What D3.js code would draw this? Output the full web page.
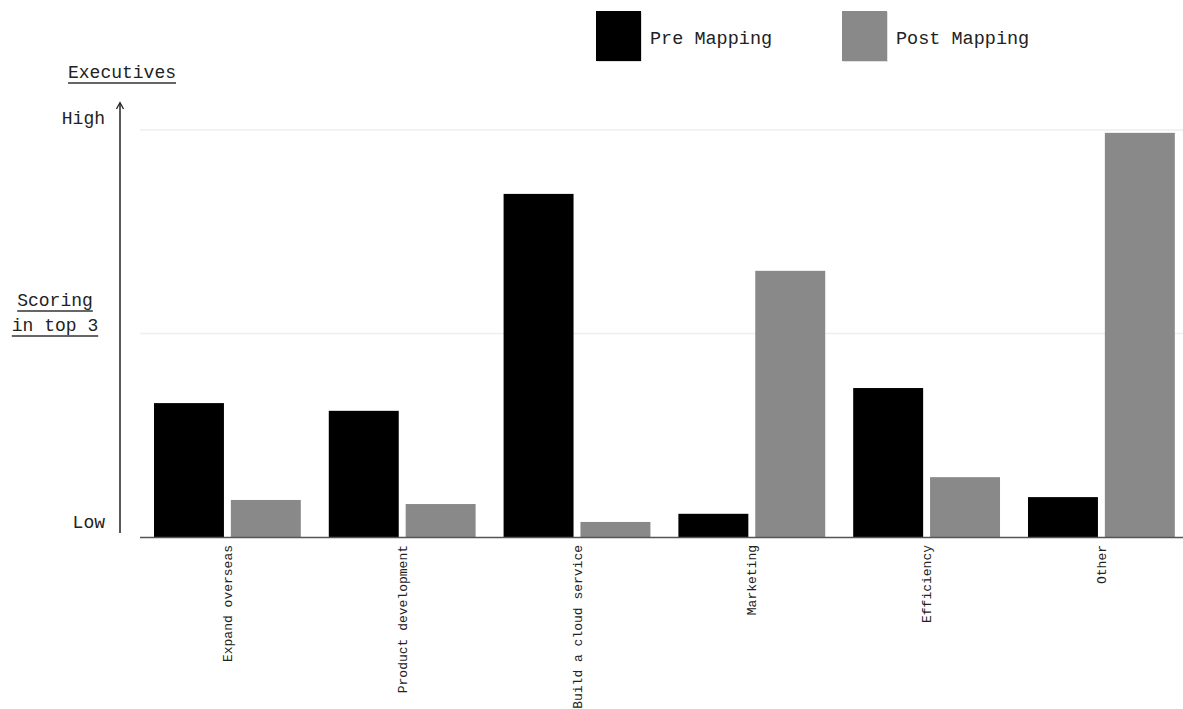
<!DOCTYPE html>
<html><head><meta charset="utf-8">
<script src="https://cdn.jsdelivr.net/npm/d3@7"></script>
<style>body{margin:0;background:#fff}svg{display:block}</style>
</head><body>
<svg id="c" width="1183" height="709"></svg>
<script>
const categories = ["Expand overseas","Product development","Build a cloud service","Marketing","Efficiency","Other"];
const seriesNames = ["Pre Mapping","Post Mapping"];
const preMapping = [32.9, 31.0, 84.3, 5.7, 36.6, 9.8];
const postMapping = [9.1, 8.1, 3.7, 65.4, 14.7, 99.3];
const gridValues = [50, 100];
const yTickLabels = [{v:0,t:"Low"},{v:100,t:"High"}];
const colors = ["#000000","#898989"];

const font = "'Liberation Mono','Courier New',monospace";
const svg = d3.select("#c");
const baseY = 537, topY = 130;
const x0 = d3.scaleBand().domain(categories).range([140, 1188.8]).paddingInner(0.16).paddingOuter(0.08);
const x1 = d3.scaleBand().domain(seriesNames).range([0, x0.bandwidth()]).paddingInner(0.09);
const y = d3.scaleLinear().domain([0,100]).range([baseY, topY]);
const color = d3.scaleOrdinal().domain(seriesNames).range(colors);

// gridlines
svg.append("g").selectAll("line").data(gridValues).join("line")
  .attr("x1",140).attr("x2",1183).attr("y1",d=>y(d)).attr("y2",d=>y(d))
  .attr("stroke","#eeeeee").attr("stroke-width",1.5);

// bars
const rows = categories.map((c,i)=>({c, vals:[preMapping[i], postMapping[i]]}));
svg.append("g").selectAll("g").data(rows).join("g")
  .attr("transform", d=>`translate(${x0(d.c)},0)`)
  .selectAll("rect").data(d=>d.vals.map((v,j)=>({s:seriesNames[j], v})))
  .join("rect")
  .attr("x", d=>x1(d.s)).attr("width", x1.bandwidth())
  .attr("y", d=>y(d.v)).attr("height", d=>baseY - y(d.v))
  .attr("fill", d=>color(d.s));

// x axis
const xAxis = svg.append("g").attr("transform",`translate(0,${baseY})`)
  .call(d3.axisBottom(x0).tickSize(0).tickSizeOuter(0));
xAxis.select(".domain").attr("d","M140,0.5H1183").attr("stroke","#555").attr("stroke-width",1.5);
xAxis.selectAll("text")
  .attr("font-family",font).attr("font-size",13).attr("fill","#222")
  .attr("transform","rotate(-90)").attr("text-anchor","end")
  .attr("x",-8).attr("y",0).attr("dy","0.35em");

// y axis with arrow
svg.append("line").attr("x1",120).attr("x2",120).attr("y1",533).attr("y2",103)
  .attr("stroke","#222").attr("stroke-width",1.5);
svg.append("path").attr("d","M116.5,109 L120,102.5 L123.5,109")
  .attr("fill","none").attr("stroke","#222").attr("stroke-width",1.3);

svg.append("g").selectAll("text").data(yTickLabels).join("text")
  .attr("x",105).attr("y",d=>d.v===0? y(d.v)-9 : y(d.v)-6)
  .attr("text-anchor","end").attr("font-family",font).attr("font-size",18).attr("fill","#222")
  .text(d=>d.t);

// titles with underline
function uText(txt, cx, yy){
  const t = svg.append("text").attr("x",cx).attr("y",yy).attr("text-anchor","middle")
    .attr("font-family",font).attr("font-size",18).attr("fill","#222").text(txt);
  const bb = t.node().getBBox();
  svg.append("line").attr("x1",bb.x).attr("x2",bb.x+bb.width).attr("y1",yy+5).attr("y2",yy+5)
    .attr("stroke","#333").attr("stroke-width",1.3);
}
uText("Executives",122,78);
uText("Scoring",55,306);
uText("in top 3",55,331);

// legend
const legX = [596, 842];
const lg = svg.append("g").selectAll("g").data(seriesNames).join("g")
  .attr("transform",(d,i)=>`translate(${legX[i]},11)`);
lg.append("rect").attr("x",1).attr("y",1).attr("width",45).attr("height",50).attr("fill","#ccc").attr("opacity",0.6);
lg.append("rect").attr("width",45).attr("height",50).attr("fill",d=>color(d));
lg.append("text").attr("x",54).attr("y",33).attr("font-family",font).attr("font-size",18.5).attr("fill","#222").text(d=>d);
</script>
</body></html>
